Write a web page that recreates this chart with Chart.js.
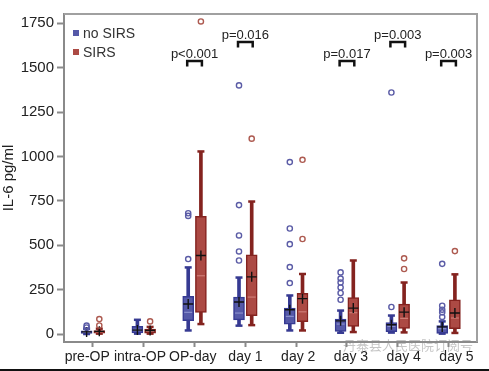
<!DOCTYPE html>
<html>
<head>
<meta charset="utf-8">
<script src="https://cdn.jsdelivr.net/npm/chart.js@4.4.1/dist/chart.umd.min.js"></script>
<style>
  html, body { margin: 0; padding: 0; background: #fff; }
  #wrap { position: relative; width: 489px; height: 371px; overflow: hidden; }
  #bottomline { position: absolute; left: 0; top: 369px; width: 489px; height: 2px; background: #111; }
  #wm { position: absolute; left: 343px; top: 337px; font: 13px/16px "Noto Sans CJK SC", sans-serif;
        color: rgba(140,140,140,0.5); white-space: nowrap; }
</style>
</head>
<body>
<div id="wrap">
  <canvas id="c" width="489" height="371"></canvas>
  <div id="bottomline"></div>
  <div id="wm">丹寨县人民医院订阅号</div>
</div>
<script>
// ---------- data ----------
const categories = ['pre-OP', 'intra-OP', 'OP-day', 'day 1', 'day 2', 'day 3', 'day 4', 'day 5'];
const yTicks = [0, 250, 500, 750, 1000, 1250, 1500, 1750];
const seriesNames = ['no SIRS', 'SIRS'];

const noSirsMin    = [0,   2,   20,  47,  20,  7,   8,   2];
const noSirsQ1     = [3,   6,   75,  80,  56,  15,  13,  3];
const noSirsMedian = [10,  20,  122, 118, 99,  56,  43,  30];
const noSirsQ3     = [18,  43,  212, 208, 146, 84,  65,  47];
const noSirsMax    = [30,  80,  375, 318, 217, 132, 104, 71];
const noSirsMean   = [12,  22,  169, 180, 137, 74,  52,  40];
const noSirsOutliers = [[37, 47], [], [422, 665, 680], [414, 465, 555, 726, 1400],
                        [287, 377, 506, 594, 968], [193, 231, 262, 290, 312, 347],
                        [152, 1360], [96, 122, 137, 159, 395]];

const sirsMin    = [2,  2,  56,   50,  20,  11,  9,   6];
const sirsQ1     = [5,  5,  122,  103, 70,  43,  32,  30];
const sirsMedian = [12, 15, 328,  208, 125, 120, 88,  90];
const sirsQ3     = [20, 28, 662,  446, 229, 205, 168, 193];
const sirsMax    = [30, 40, 1028, 746, 338, 414, 290, 336];
const sirsMean   = [15, 20, 442,  322, 199, 146, 123, 118];
const sirsOutliers = [[48, 84], [71], [1760], [1100], [535, 981], [], [366, 426], [467]];

const pLabels = [null, null, 'p<0.001', 'p=0.016', null, 'p=0.017', 'p=0.003', 'p=0.003'];
const pLevels = [null, null, 1538, 1645, null, 1538, 1645, 1538];

// ---------- styles ----------
const OFF = 0.125;
const blue = { fill: '#5559a8', border: '#363a92', median: '#8a8fcc', out: '#5b5ca6' };
const red  = { fill: '#ac4a44', border: '#84231f', median: '#cf7d76', out: '#ad5a50' };
const FONT = '"Liberation Sans", Arial, sans-serif';

function buildGroup(label, sign, col, mn, q1, md, q3, mx, mean, outs) {
  const xs = categories.map((c, i) => i + sign * OFF);
  const sets = [];
  sets.push({ type: 'bar', label: label + ' whisker', order: 6, grouped: false, barThickness: 3,
    backgroundColor: col.border, borderWidth: 0,
    data: xs.map((x, i) => ({ x, y: [mn[i], mx[i]] })) });
  sets.push({ type: 'bar', label: label, order: 5, grouped: false, barThickness: 11,
    backgroundColor: col.fill, borderColor: col.border, borderWidth: 1.5, borderSkipped: false,
    data: xs.map((x, i) => ({ x, y: [q1[i], q3[i]] })) });
  sets.push({ type: 'scatter', label: label + ' caps', order: 4, pointStyle: 'line', pointRadius: 3.5,
    borderColor: col.border, pointBorderWidth: 2.5, borderWidth: 2.5,
    data: xs.flatMap((x, i) => [{ x, y: mn[i] }, { x, y: mx[i] }]) });
  sets.push({ type: 'scatter', label: label + ' median', order: 3, pointStyle: 'line', pointRadius: 4,
    borderColor: col.median, pointBorderWidth: 1.2, borderWidth: 1.2,
    data: xs.map((x, i) => ({ x, y: md[i] })) });
  sets.push({ type: 'scatter', label: label + ' mean', order: 2, pointStyle: 'cross', pointRadius: 5,
    borderColor: '#111', pointBorderWidth: 1.4, borderWidth: 1.4,
    data: xs.map((x, i) => ({ x, y: mean[i] })) });
  sets.push({ type: 'scatter', label: label + ' outliers', order: 1, pointStyle: 'circle', pointRadius: 2.6,
    borderColor: col.out, backgroundColor: 'rgba(255,255,255,0)', pointBorderWidth: 1.4, borderWidth: 1.4,
    data: xs.flatMap((x, i) => outs[i].map(v => ({ x, y: v }))) });
  return sets;
}

const datasets = [
  ...buildGroup(seriesNames[0], -1, blue, noSirsMin, noSirsQ1, noSirsMedian, noSirsQ3, noSirsMax, noSirsMean, noSirsOutliers),
  ...buildGroup(seriesNames[1], 1, red, sirsMin, sirsQ1, sirsMedian, sirsQ3, sirsMax, sirsMean, sirsOutliers)
];

const decor = {
  id: 'decor',
  afterDatasetsDraw(chart) {
    const { ctx, chartArea: a, scales: { x, y } } = chart;
    ctx.save();
    // frame top & right
    ctx.strokeStyle = '#a0a0a0';
    ctx.lineWidth = 2;
    ctx.beginPath();
    ctx.moveTo(a.left, a.top); ctx.lineTo(a.right, a.top); ctx.lineTo(a.right, a.bottom);
    ctx.stroke();
    // p-value brackets
    ctx.strokeStyle = '#111';
    ctx.fillStyle = '#222';
    ctx.lineWidth = 2.5;
    ctx.font = '13px ' + FONT;
    ctx.textAlign = 'center';
    ctx.textBaseline = 'alphabetic';
    pLabels.forEach((lab, i) => {
      if (!lab) return;
      const x1 = x.getPixelForValue(i - OFF) - 1;
      const x2 = x.getPixelForValue(i + OFF) + 1;
      const yt = y.getPixelForValue(pLevels[i]);
      ctx.beginPath();
      ctx.moveTo(x1, yt + 5.5); ctx.lineTo(x1, yt); ctx.lineTo(x2, yt); ctx.lineTo(x2, yt + 5.5);
      ctx.stroke();
      ctx.fillText(lab, (x1 + x2) / 2, yt - 3);
    });
    // legend
    ctx.font = '14px ' + FONT;
    ctx.textAlign = 'left';
    ctx.textBaseline = 'middle';
    [[blue, seriesNames[0], 33], [red, seriesNames[1], 52]].forEach(([col, name, yy]) => {
      ctx.fillStyle = col.fill;
      ctx.fillRect(a.left + 9, yy - 3, 6, 6);
      ctx.fillStyle = '#333';
      ctx.fillText(name, a.left + 19, yy + 1);
    });
    ctx.restore();
  }
};

new Chart(document.getElementById('c'), {
  type: 'bar',
  data: { datasets },
  options: {
    responsive: false,
    animation: false,
    events: [],
    layout: { padding: { top: 14, right: 12, left: 0, bottom: 0 }, autoPadding: false },
    plugins: { legend: { display: false }, tooltip: { enabled: false } },
    scales: {
      x: {
        type: 'linear', min: -0.57, max: 7.56, offset: false, position: 'bottom',
        afterBuildTicks: s => { s.ticks = categories.map((c, i) => ({ value: i })); },
        afterFit: s => { s.height = 5; },
        ticks: { display: false },
        grid: { drawOnChartArea: false, offset: false, tickLength: 5, color: '#8a8a8a', tickWidth: 2 },
        border: { display: true, color: '#8a8a8a', width: 2 }
      },
      xLabels: {
        type: 'linear', min: -0.44, max: 7.389, offset: false, position: 'bottom',
        afterBuildTicks: s => { s.ticks = categories.map((c, i) => ({ value: i })); },
        afterFit: s => { s.height = 24; },
        ticks: { callback: v => categories[v], autoSkip: false, maxRotation: 0, padding: 2,
                 color: '#222', font: { size: 14, family: FONT } },
        grid: { display: false, drawTicks: false },
        border: { display: false }
      },
      y: {
        type: 'linear', min: -45, max: 1802,
        afterBuildTicks: s => { s.ticks = yTicks.map(v => ({ value: v })); },
        afterFit: s => { s.width = 64; },
        ticks: { padding: 3, color: '#222', callback: v => String(v), font: { size: 15, family: FONT } },
        grid: { drawOnChartArea: false, tickLength: 7, color: '#8a8a8a', tickWidth: 2 },
        border: { display: true, color: '#8a8a8a', width: 2 },
        title: { display: true, text: 'IL-6 pg/ml', color: '#222', padding: { top: 0, bottom: 0 },
                 font: { size: 15, family: FONT } }
      }
    }
  },
  plugins: [decor]
});
</script>
</body>
</html>
